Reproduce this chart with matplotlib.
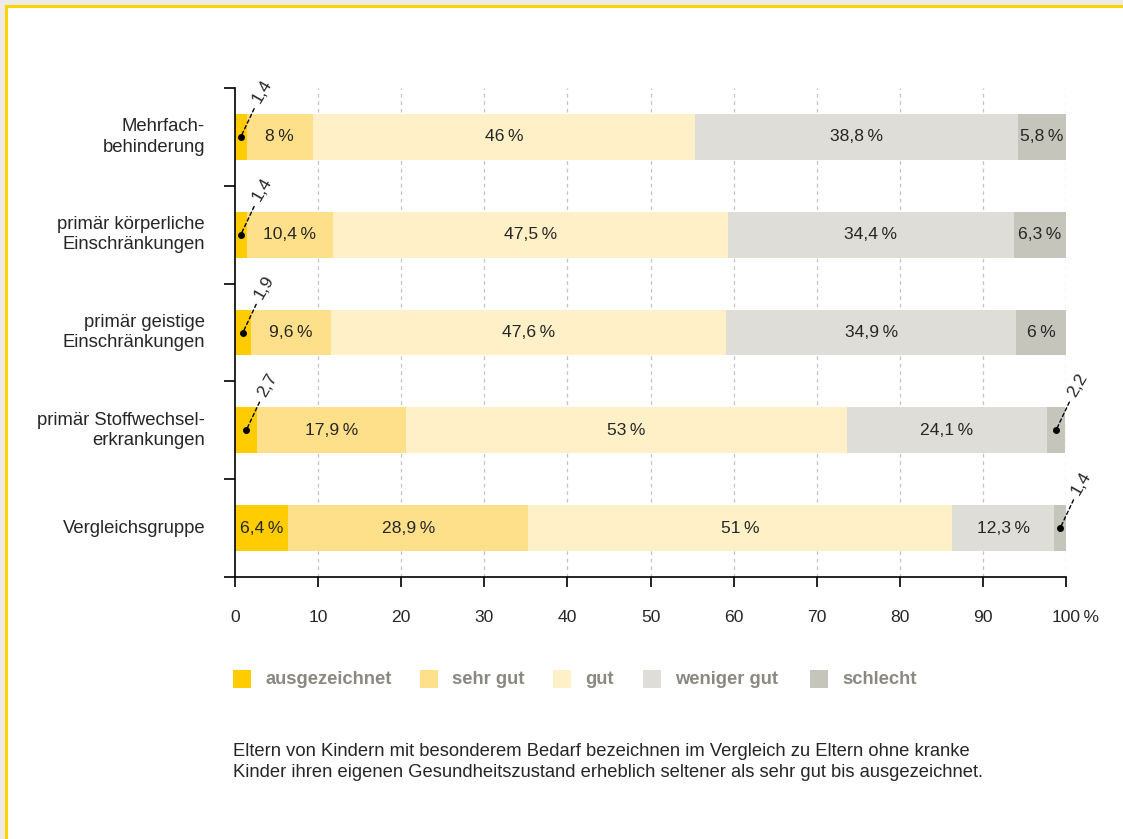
import matplotlib
matplotlib.use("Agg")
import matplotlib.pyplot as plt
from matplotlib.patches import Rectangle
import numpy as np

plt.rcParams['font.family'] = ['Liberation Sans', 'DejaVu Sans']

categories = ["Mehrfach-\nbehinderung", "primär körperliche\nEinschränkungen",
              "primär geistige\nEinschränkungen", "primär Stoffwechsel-\nerkrankungen",
              "Vergleichsgruppe"]
series_names = ["ausgezeichnet", "sehr gut", "gut", "weniger gut", "schlecht"]
ausgezeichnet = [1.4, 1.4, 1.9, 2.7, 6.4]
sehr_gut = [8, 10.4, 9.6, 17.9, 28.9]
gut = [46, 47.5, 47.6, 53, 51]
weniger_gut = [38.8, 34.4, 34.9, 24.1, 12.3]
schlecht = [5.8, 6.3, 6, 2.2, 1.4]
xticks = [0, 10, 20, 30, 40, 50, 60, 70, 80, 90, 100]
xticklabels = ["0", "10", "20", "30", "40", "50", "60", "70", "80", "90", "100"]
caption = ("Eltern von Kindern mit besonderem Bedarf bezeichnen im Vergleich zu Eltern ohne kranke\n"
           "Kinder ihren eigenen Gesundheitszustand erheblich seltener als sehr gut bis ausgezeichnet.")

colors = ["#FFCC00", "#FFE08A", "#FFF0C7", "#DEDDD8", "#C6C5BC"]
series = [ausgezeichnet, sehr_gut, gut, weniger_gut, schlecht]
txt = "#262626"

W, H = 1123, 839
fig = plt.figure(figsize=(W / 100, H / 100), dpi=100)
fig.patch.set_facecolor("#EDEBE7")
fig.patches.append(Rectangle((5.5 / W, -0.1), 1.2, (H - 5.5) / H + 0.1,
                             transform=fig.transFigure, facecolor="white",
                             edgecolor="#FFD200", linewidth=2.2, zorder=-10))

ax = fig.add_axes([235 / W, 1 - 577 / H, 831 / W, 489 / H])
ax.set_facecolor("none")

y = np.arange(len(categories))
left = np.zeros(len(categories))

def fmt(v):
    return ("%g" % v).replace(".", ",")

for vals, col in zip(series, colors):
    vals = np.array(vals, dtype=float)
    ax.barh(y, vals, left=left, height=0.47, color=col, zorder=2)
    for i, (v, l) in enumerate(zip(vals, left)):
        cx = l + v / 2
        if v >= 5:
            ax.text(cx, y[i], fmt(v) + "\u2009%", ha="center", va="center",
                    fontsize=12.6, color=txt, zorder=3)
        else:
            ax.plot(cx, y[i], "o", color="black", markersize=4, zorder=4)
            ax.annotate(fmt(v), xy=(cx, y[i]), xytext=(11, 25), textcoords="offset points",
                        rotation=60, rotation_mode="anchor", ha="left", va="center",
                        fontsize=12.6, color=txt,
                        arrowprops=dict(arrowstyle="-", linestyle=(0, (2.5, 2)), color="black",
                                        lw=1.0, shrinkA=0, shrinkB=0), zorder=4)
    left = left + vals

ax.set_xlim(0, 100)
ax.set_ylim(4.5, -0.5)
ax.set_xticks(xticks)
ax.set_xticklabels(xticklabels, fontsize=12.6, color=txt)
ax.tick_params(axis="x", direction="out", length=7, width=1.2, pad=17, color="black")
ax.annotate("\u2009%", xy=(100, 0), xycoords=("data", "axes fraction"),
            xytext=(10, -(7 + 17) * 1.0), textcoords="offset points",
            ha="left", va="top", fontsize=12.6, color=txt)
ax.set_yticks(np.arange(-0.5, 5, 1.0))
ax.set_yticklabels([])
ax.tick_params(axis="y", direction="out", length=8, width=1.2, color="black")
for i, c in enumerate(categories):
    ax.text(-3.6, y[i], c, ha="right", va="center", fontsize=13.3, color=txt,
            linespacing=1.25)

for xv in xticks[1:]:
    ax.axvline(xv, color="#C4C4C4", linestyle=(0, (3, 3)), linewidth=0.9, zorder=1)

for s in ["top", "right"]:
    ax.spines[s].set_visible(False)
ax.spines["left"].set_linewidth(1.2)
ax.spines["bottom"].set_linewidth(1.2)

# legend
leg_sq_x = [233, 420, 553, 643, 810]
for name, col, sx in zip(series_names, colors, leg_sq_x):
    fig.patches.append(Rectangle((sx / W, 1 - 688 / H), 18 / W, 18 / H,
                                 transform=fig.transFigure, facecolor=col, edgecolor="none"))
    fig.text((sx + 32) / W, 1 - 679 / H, name, ha="left", va="center", fontsize=13.2,
             fontweight="bold", color="#8A8880")

fig.text(233 / W, 1 - 762 / H, caption, ha="left", va="center", fontsize=13.2,
         color=txt, linespacing=1.3)

fig.savefig("out.png", dpi=100, facecolor=fig.get_facecolor())
